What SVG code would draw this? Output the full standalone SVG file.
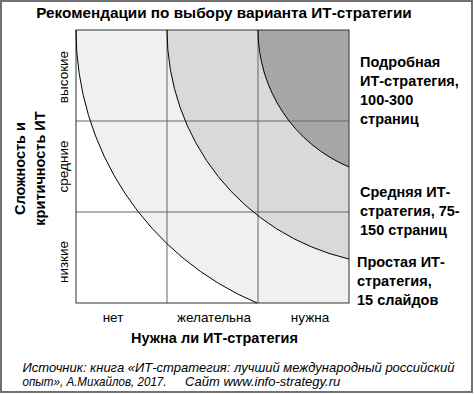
<svg xmlns="http://www.w3.org/2000/svg" width="474" height="394" viewBox="0 0 474 394">
  <style>
    text { font-family: "Liberation Sans", Arial, sans-serif; fill: #000; }
    .title { font-size: 15.3px; font-weight: bold; text-anchor: middle; }
    .lbl { font-size: 14.5px; font-weight: bold; }
    .axis { font-size: 14.5px; font-weight: bold; text-anchor: middle; }
    .tick { font-size: 13.5px; text-anchor: middle; }
    .src { font-size: 13px; font-style: italic; }
    .grid { stroke: #666; stroke-width: 1; fill: none; }
    .arc { stroke: #000; stroke-width: 1; fill: none; }
  </style>
  <rect id="frame" x="1" y="1" width="471" height="391" fill="#fff" stroke="#707070" stroke-width="2"/>
  <g id="title"><text class="title" x="224" y="18">Рекомендации по выбору варианта ИТ-стратегии</text></g>

  <g id="chart">
    <rect x="76" y="30" width="273" height="273" fill="#fff"/>
    <path id="zone-simple" d="M76,30 H349 V303 H257 A296,296 0 0 1 76,30 Z" fill="#f0f0f0"/>
    <path id="zone-medium" d="M167,30 H349 V259 A235,235 0 0 1 167,30 Z" fill="#d9d9d9"/>
    <path id="zone-detailed" d="M258,30 H349 V167 A148.6,148.6 0 0 1 258,30 Z" fill="#a6a6a6"/>
    <g id="grid" class="grid">
      <line x1="167" y1="30" x2="167" y2="303"/>
      <line x1="258" y1="30" x2="258" y2="303"/>
      <line x1="76" y1="121" x2="349" y2="121"/>
      <line x1="76" y1="212" x2="349" y2="212"/>
    </g>
    <rect x="76" y="30" width="273" height="273" fill="none" stroke="#333" stroke-width="1"/>
  </g>
  <g id="connectors" class="arc">
    <path d="M257,303 A296,296 0 0 1 76,30"/>
    <path d="M349,259 A235,235 0 0 1 167,30"/>
    <path d="M349,167 A148.6,148.6 0 0 1 258,30"/>
  </g>

  <g id="label-detailed">
    <text class="lbl" x="360" y="67">Подробная</text>
    <text class="lbl" x="360" y="86">ИТ-стратегия,</text>
    <text class="lbl" x="360" y="105">100-300</text>
    <text class="lbl" x="360" y="124">страниц</text>
  </g>
  <g id="label-medium">
    <text class="lbl" x="360" y="197">Средняя ИТ-</text>
    <text class="lbl" x="360" y="216">стратегия, 75-</text>
    <text class="lbl" x="360" y="235">150 страниц</text>
  </g>
  <g id="label-simple">
    <text class="lbl" x="357" y="267">Простая ИТ-</text>
    <text class="lbl" x="357" y="286">стратегия,</text>
    <text class="lbl" x="357" y="305">15 слайдов</text>
  </g>

  <g id="y-axis">
    <text class="axis" transform="translate(24.5,168.5) rotate(-90)">Сложность и</text>
    <text class="axis" transform="translate(44.5,168.5) rotate(-90)">критичность ИТ</text>
    <text class="tick" transform="translate(68,77) rotate(-90)">высокие</text>
    <text class="tick" transform="translate(68,166.5) rotate(-90)">средние</text>
    <text class="tick" transform="translate(68,262) rotate(-90)">низкие</text>
  </g>
  <g id="x-axis">
    <text class="tick" x="113" y="321.5">нет</text>
    <text class="tick" x="214" y="321.5">желательна</text>
    <text class="tick" x="310" y="321.5">нужна</text>
    <text class="axis" x="214.5" y="342.5">Нужна ли ИТ-стратегия</text>
  </g>
  <g id="source">
    <text class="src" x="22.5" y="371.5">Источник: книга «ИТ-стратегия: лучший международный российский</text>
    <text class="src" x="22.5" y="385.5" textLength="144" lengthAdjust="spacingAndGlyphs">опыт», А.Михайлов, 2017.</text>
    <text class="src" x="185" y="385.5">Сайт www.info-strategy.ru</text>
  </g>
</svg>
